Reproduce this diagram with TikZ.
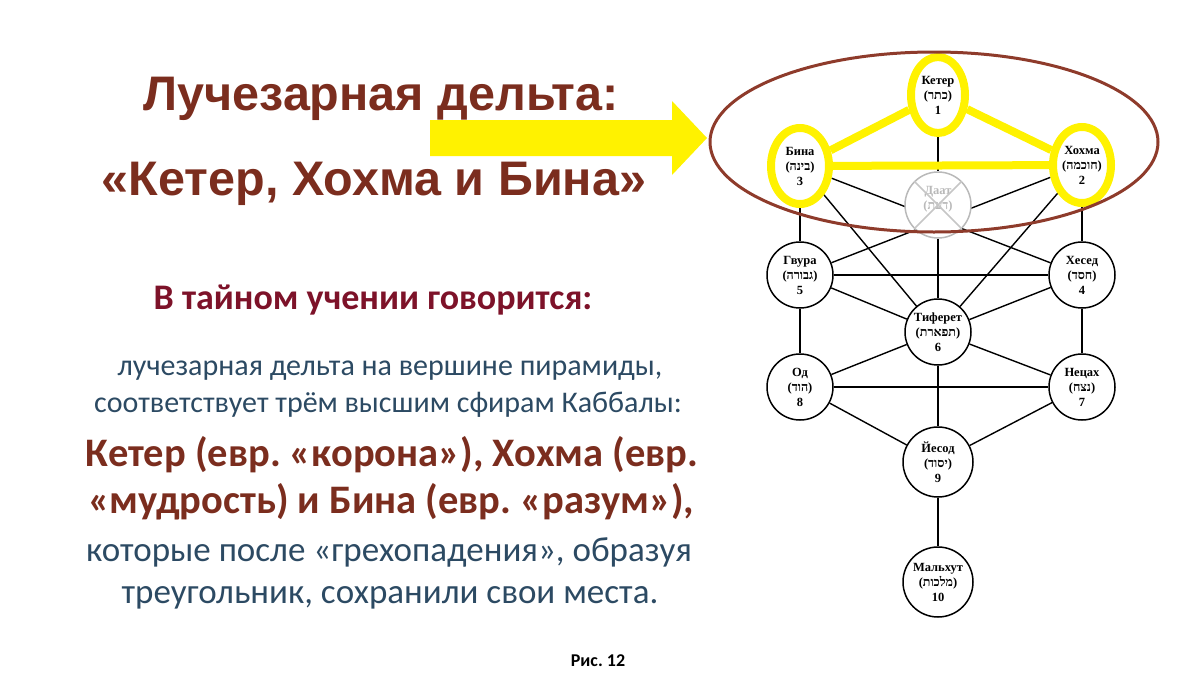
\documentclass[tikz,border=0pt]{standalone}
\usepackage{fontspec}
\setmainfont{Carlito}
\newfontfamily\titlefont{Liberation Sans}
\newfontfamily\sefirafont{Liberation Serif}
\newfontfamily\hebfont[Script=Hebrew]{Liberation Serif}
\usetikzlibrary{shapes.geometric,backgrounds}
\TeXXeTstate=1
\frenchspacing

\definecolor{titlebrown}{HTML}{7B2D1E}
\definecolor{headred}{HTML}{7D1229}
\definecolor{textblue}{HTML}{2C4A63}
\definecolor{ringyellow}{HTML}{FFF200}
\definecolor{ovalbrown}{HTML}{8E3B2B}

\newcommand{\sefira}[3]{#1\\(\beginR{\hebfont #2}\endR)\\#3}

\begin{document}
\begin{tikzpicture}[x=1pt,y=-1pt,
    sef/.style={circle,draw,line width=1.5pt,fill=white,minimum size=66pt,inner sep=0pt,
      align=center,font=\sefirafont\bfseries\fontsize{12.5}{15}\selectfont},
    crown/.style={sef,ellipse,draw=ringyellow,line width=8pt,minimum width=58pt,minimum height=76pt},
    channel/.style={line width=1.4pt},
    glow/.style={ringyellow,line width=8pt},
    title/.style={font=\titlefont\bfseries\fontsize{48.5}{52}\selectfont,text=titlebrown},
    bluetext/.style={text=textblue,font=\fontsize{30}{34}\selectfont},
    boldtext/.style={text=titlebrown,font=\bfseries\fontsize{40.5}{44}\selectfont}]
          \useasboundingbox (0,0) rectangle (1200,675);
          % left side texts
          \node[title] (T1) at (381,99) {Лучезарная  дельта:};
          \node[title] (T2) at (374,184) {«Кетер, Хохма и Бина»};
          \fill[ringyellow] (430,120) -- (672,120) -- (672,101) -- (707,138) -- (672,175) -- (672,156) -- (430,156) -- cycle;
          \node[text=headred,font=\bfseries\fontsize{36}{40}\selectfont] (L) at (373,300) {В тайном учении говорится:};
          \node[bluetext] (P1) at (390,371) {лучезарная дельта на вершине пирамиды,};
          \node[bluetext] (P2) at (388,405) {соответствует трём высшим сфирам Каббалы:};
          \node[boldtext] (P3) at (392,455) {Кетер (евр. «корона»), Хохма (евр.};
          \node[boldtext] (P4) at (391,502) {«мудрость) и Бина (евр. «разум»),};
          \node[bluetext,font=\fontsize{35}{38}\selectfont] (P5) at (389,552) {которые после «грехопадения», образуя};
          \node[bluetext,font=\fontsize{35}{38}\selectfont] (P6) at (390,598) {треугольник, сохранили свои места.};
          \node[font=\bfseries\fontsize{18}{20}\selectfont] (F) at (598,661) {Рис. 12};
          % the tree
          \node[crown,minimum width=54pt] (Ke) at (938,95) {\sefira{Кетер}{כתר}{1}};
          \node[crown] (Ho) at (1082,165) {\sefira{Хохма}{חוכמה}{2}};
          \node[crown] (Bi) at (800,166) {\sefira{Бина}{בינה}{3}};
          \node[sef,draw=gray!55,text=gray!55] (Da) at (938,205) {\sefira{Даат}{דעת}{}};
          \draw[gray!45,line width=1.6pt] (Da.north west) to (Da.south east);
          \draw[gray!45,line width=1.6pt] (Da.north east) to (Da.south west);
          \node[sef] (He) at (1082,275) {\sefira{Хесед}{חסד}{4}};
          \node[sef] (Ge) at (800,275) {\sefira{Гвура}{גבורה}{5}};
          \node[sef] (Ti) at (938,332) {\sefira{Тиферет}{תפארת}{6}};
          \node[sef] (Ne) at (1082,387) {\sefira{Нецах}{נצח}{7}};
          \node[sef] (Od) at (800,387) {\sefira{Од}{הוד}{8}};
          \node[sef,minimum size=70pt] (Ye) at (938,462) {\sefira{Йесод}{יסוד}{9}};
          \node[sef,minimum size=70pt] (Ma) at (938,582) {\sefira{Мальхут}{מלכות}{10}};
          \draw[ovalbrown,line width=3pt] (934,142) ellipse [x radius=224pt,y radius=90pt];
          \begin{pgfonlayer}{background}
          \draw[channel] (Ke) to (Da);
          \draw[channel] (Da) to (Ti);
          \draw[channel] (Bi) to (Ge);
          \draw[channel] (Ho) to (He);
          \draw[channel] (Bi) to (He);
          \draw[channel] (Ho) to (Ge);
          \draw[channel] (Bi) to (Ti);
          \draw[channel] (Ho) to (Ti);
          \draw[channel] (Ge) to (He);
          \draw[channel] (Ge) to (Ti);
          \draw[channel] (He) to (Ti);
          \draw[channel] (Ge) to (Od);
          \draw[channel] (He) to (Ne);
          \draw[channel] (Ti) to (Od);
          \draw[channel] (Ti) to (Ne);
          \draw[channel] (Od) to (Ne);
          \draw[channel] (Ti) to (Ye);
          \draw[channel] (Od) to (Ye);
          \draw[channel] (Ne) to (Ye);
          \draw[channel] (Ye) to (Ma);
          \draw[glow] (Ke) to (Bi);
          \draw[glow] (Ke) to (Ho);
          \draw[glow] (Bi) to (Ho);
          \end{pgfonlayer}
        \end{tikzpicture}
\end{document}
